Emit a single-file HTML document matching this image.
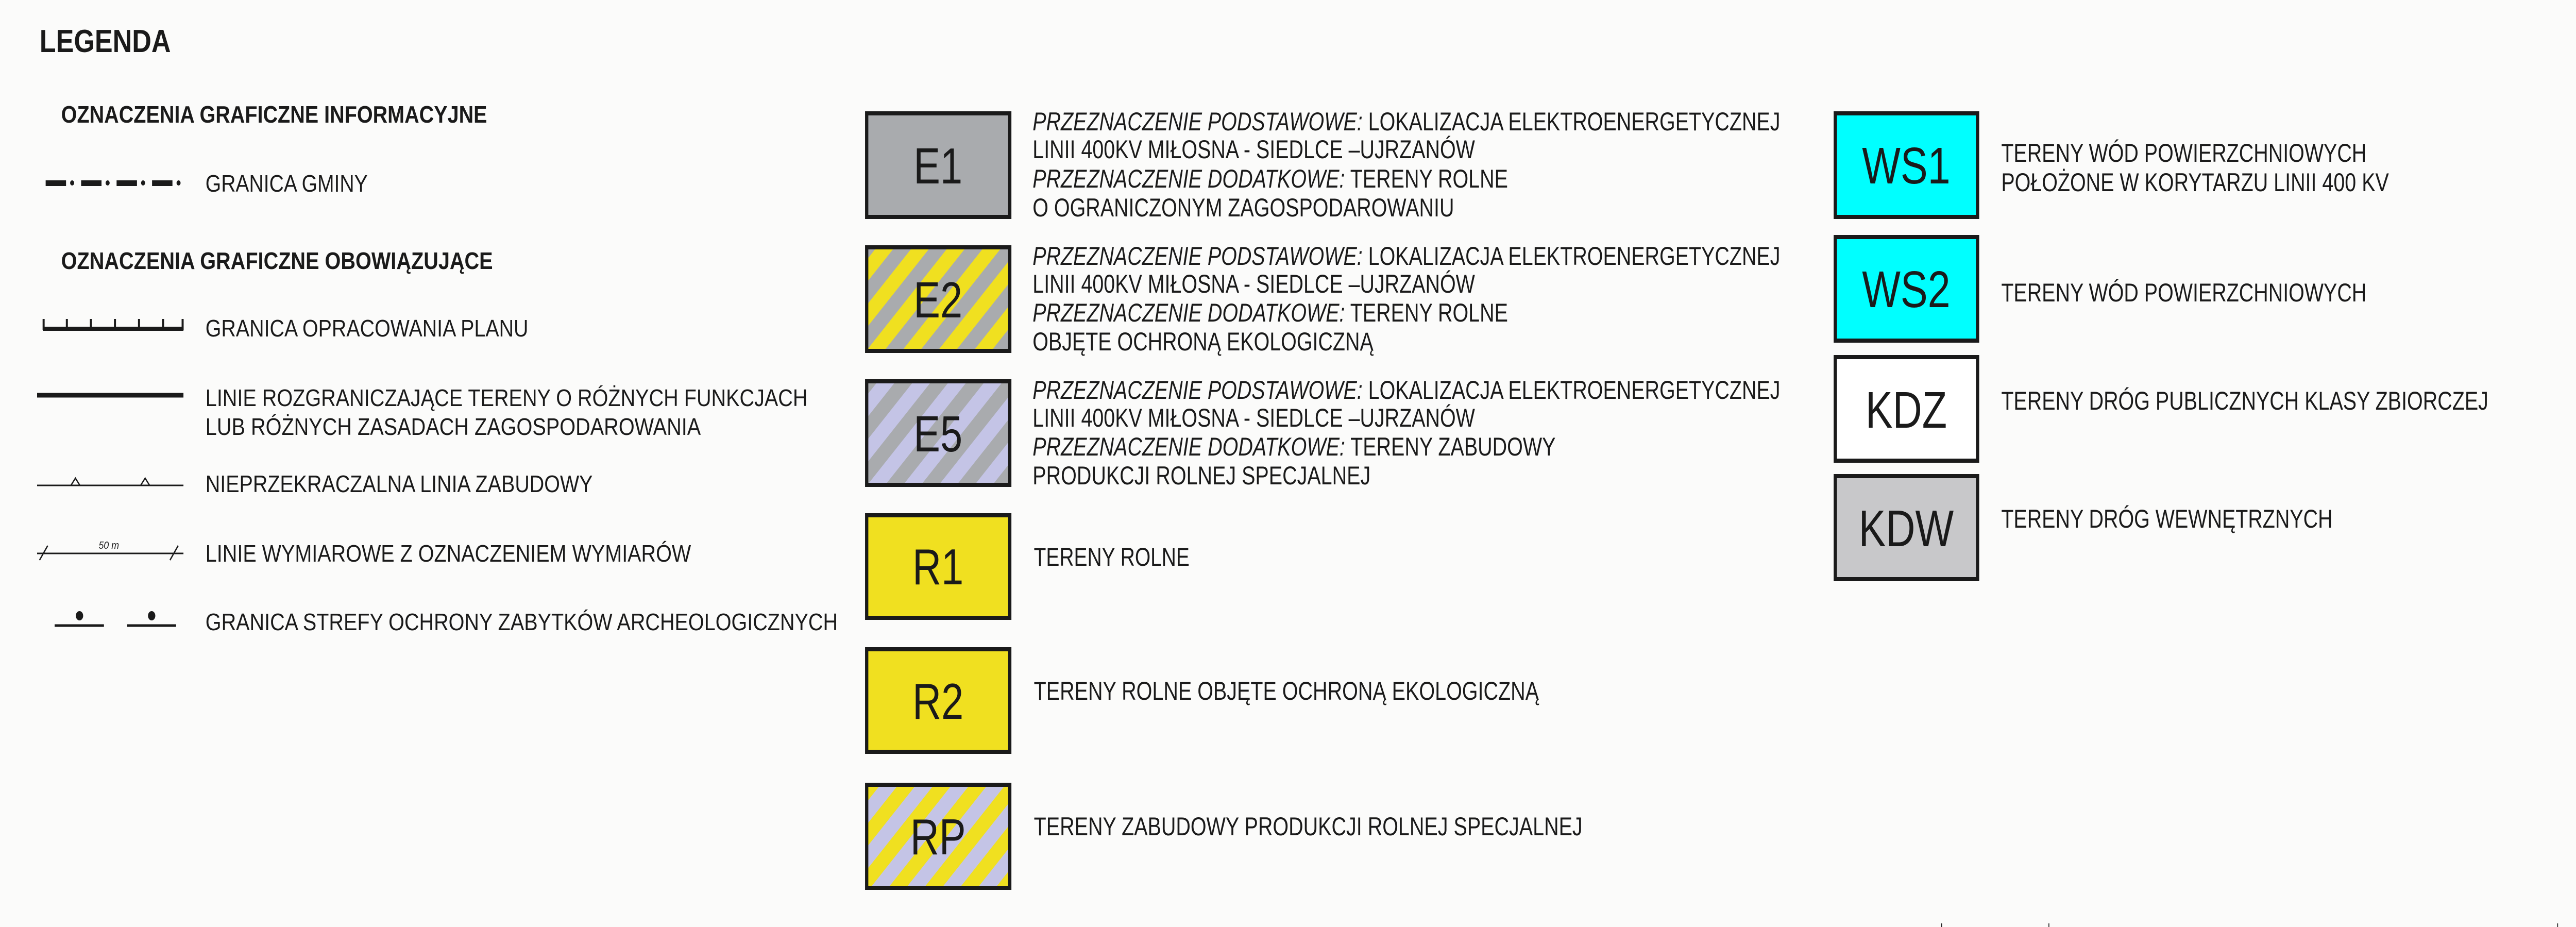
<!DOCTYPE html>
<html><head><meta charset="utf-8"><style>
html,body{margin:0;padding:0;background:#fbfbfa;overflow:hidden;width:100vw;height:100vh;}
svg{display:block;width:100vw;height:100vh;}
text{font-family:"Liberation Sans",sans-serif;fill:#1a1a1a;}
</style></head><body>
<svg viewBox="0 0 6319 1799" preserveAspectRatio="none" xmlns="http://www.w3.org/2000/svg">
<defs>
<pattern id="pGY" width="62" height="62" patternUnits="userSpaceOnUse" patternTransform="rotate(45)">
<rect width="62" height="62" fill="#a9abae"/><rect width="31" height="62" fill="#f0e020"/></pattern>
<pattern id="pGL" width="62" height="62" patternUnits="userSpaceOnUse" patternTransform="rotate(45)">
<rect width="62" height="62" fill="#a9abae"/><rect width="31" height="62" fill="#c4c4e6"/></pattern>
<pattern id="pYL" width="62" height="62" patternUnits="userSpaceOnUse" patternTransform="rotate(45)">
<rect width="62" height="62" fill="#f0e020"/><rect width="31" height="62" fill="#c4c4e6"/></pattern>
</defs>
<rect width="6319" height="1799" fill="#fbfbfa"/>

<text x="97" y="101" font-size="62" font-weight="bold" textLength="322" lengthAdjust="spacingAndGlyphs">LEGENDA</text>
<text x="150" y="238" font-size="46" font-weight="bold" textLength="1045" lengthAdjust="spacingAndGlyphs">OZNACZENIA GRAFICZNE INFORMACYJNE</text>
<text x="150" y="522" font-size="46" font-weight="bold" textLength="1059" lengthAdjust="spacingAndGlyphs">OZNACZENIA GRAFICZNE OBOWIĄZUJĄCE</text>

<g fill="#1a1a1a">
<rect x="112" y="350" width="50" height="11"/><circle cx="177" cy="355" r="5"/>
<rect x="199" y="350" width="50" height="11"/><circle cx="264" cy="355" r="5"/>
<rect x="286" y="350" width="50" height="11"/><circle cx="351" cy="355" r="5"/>
<rect x="373" y="350" width="50" height="11"/><circle cx="438" cy="355" r="5"/>
</g>
<text x="504" y="372" font-size="46" textLength="398" lengthAdjust="spacingAndGlyphs">GRANICA GMINY</text>

<g stroke="#1a1a1a" fill="none">
<line x1="105" y1="638" x2="450" y2="638" stroke-width="8"/>
<path d="M107 619V640M164 619V640M223 619V640M282 619V640M341 619V640M400 619V640M448 619V640" stroke-width="5"/>
</g>
<text x="504" y="653" font-size="46" textLength="792" lengthAdjust="spacingAndGlyphs">GRANICA OPRACOWANIA PLANU</text>

<line x1="91" y1="767" x2="450" y2="767" stroke="#1a1a1a" stroke-width="9"/>
<text x="504" y="788" font-size="46" textLength="1477" lengthAdjust="spacingAndGlyphs">LINIE ROZGRANICZAJĄCE TERENY O RÓŻNYCH FUNKCJACH</text>
<text x="504" y="844" font-size="46" textLength="1215" lengthAdjust="spacingAndGlyphs">LUB RÓŻNYCH ZASADACH ZAGOSPODAROWANIA</text>

<g stroke="#1a1a1a" fill="none" stroke-width="3">
<line x1="91" y1="942" x2="450" y2="942"/>
<path d="M174 942L185 928L196 942M345 942L356 928L367 942"/>
</g>
<text x="504" y="955" font-size="46" textLength="950" lengthAdjust="spacingAndGlyphs">NIEPRZEKRACZALNA LINIA ZABUDOWY</text>

<g stroke="#1a1a1a" fill="none" stroke-width="3">
<line x1="91" y1="1074" x2="450" y2="1074"/>
<line x1="97" y1="1087" x2="117" y2="1059"/>
<line x1="417" y1="1087" x2="437" y2="1059"/>
</g>
<text x="242" y="1065" font-size="20" font-style="italic" textLength="50" lengthAdjust="spacingAndGlyphs">50 m</text>
<text x="504" y="1090" font-size="46" textLength="1191" lengthAdjust="spacingAndGlyphs">LINIE WYMIAROWE Z OZNACZENIEM WYMIARÓW</text>

<g stroke="#1a1a1a" stroke-width="5">
<line x1="134" y1="1214" x2="255" y2="1214"/>
<line x1="312" y1="1214" x2="432" y2="1214"/>
</g>
<circle cx="195" cy="1195" r="9" fill="#1a1a1a"/>
<circle cx="372" cy="1195" r="9" fill="#1a1a1a"/>
<text x="504" y="1223" font-size="46" textLength="1551" lengthAdjust="spacingAndGlyphs">GRANICA STREFY OCHRONY ZABYTKÓW ARCHEOLOGICZNYCH</text>

<g stroke="#1a1a1a" stroke-width="8">
<rect x="2126" y="220" width="351" height="201" fill="#a9abae"/>
<rect x="2126" y="480" width="351" height="201" fill="url(#pGY)"/>
<rect x="2126" y="740" width="351" height="201" fill="url(#pGL)"/>
<rect x="2126" y="1000" width="351" height="199" fill="#f0e020"/>
<rect x="2126" y="1260" width="351" height="199" fill="#f0e020"/>
<rect x="2126" y="1523" width="351" height="200" fill="url(#pYL)"/>
</g>
<g font-size="98" text-anchor="middle">
<text x="2301" y="356">E1</text>
<text x="2301" y="616">E2</text>
<text x="2301" y="876">E5</text>
<text x="2301" y="1134">R1</text>
<text x="2301" y="1395">R2</text>
<text x="2301" y="1658">RP</text>
</g>
<g font-size="50">
<text x="2533" y="253" textLength="1834" lengthAdjust="spacingAndGlyphs"><tspan font-style="italic">PRZEZNACZENIE PODSTAWOWE:</tspan> LOKALIZACJA ELEKTROENERGETYCZNEJ</text>
<text x="2533" y="307" textLength="1085" lengthAdjust="spacingAndGlyphs">LINII 400KV MIŁOSNA - SIEDLCE –UJRZANÓW</text>
<text x="2533" y="364" textLength="1166" lengthAdjust="spacingAndGlyphs"><tspan font-style="italic">PRZEZNACZENIE DODATKOWE:</tspan> TERENY ROLNE</text>
<text x="2533" y="420" textLength="1034" lengthAdjust="spacingAndGlyphs">O OGRANICZONYM ZAGOSPODAROWANIU</text>

<text x="2533" y="514" textLength="1834" lengthAdjust="spacingAndGlyphs"><tspan font-style="italic">PRZEZNACZENIE PODSTAWOWE:</tspan> LOKALIZACJA ELEKTROENERGETYCZNEJ</text>
<text x="2533" y="568" textLength="1085" lengthAdjust="spacingAndGlyphs">LINII 400KV MIŁOSNA - SIEDLCE –UJRZANÓW</text>
<text x="2533" y="624" textLength="1166" lengthAdjust="spacingAndGlyphs"><tspan font-style="italic">PRZEZNACZENIE DODATKOWE:</tspan> TERENY ROLNE</text>
<text x="2533" y="680" textLength="836" lengthAdjust="spacingAndGlyphs">OBJĘTE OCHRONĄ EKOLOGICZNĄ</text>

<text x="2533" y="774" textLength="1834" lengthAdjust="spacingAndGlyphs"><tspan font-style="italic">PRZEZNACZENIE PODSTAWOWE:</tspan> LOKALIZACJA ELEKTROENERGETYCZNEJ</text>
<text x="2533" y="828" textLength="1085" lengthAdjust="spacingAndGlyphs">LINII 400KV MIŁOSNA - SIEDLCE –UJRZANÓW</text>
<text x="2533" y="884" textLength="1283" lengthAdjust="spacingAndGlyphs"><tspan font-style="italic">PRZEZNACZENIE DODATKOWE:</tspan> TERENY ZABUDOWY</text>
<text x="2533" y="940" textLength="829" lengthAdjust="spacingAndGlyphs">PRODUKCJI ROLNEJ SPECJALNEJ</text>

<text x="2536" y="1098" textLength="382" lengthAdjust="spacingAndGlyphs">TERENY ROLNE</text>
<text x="2536" y="1358" textLength="1239" lengthAdjust="spacingAndGlyphs">TERENY ROLNE OBJĘTE OCHRONĄ EKOLOGICZNĄ</text>
<text x="2536" y="1621" textLength="1346" lengthAdjust="spacingAndGlyphs">TERENY ZABUDOWY PRODUKCJI ROLNEJ SPECJALNEJ</text>
</g>

<g stroke="#1a1a1a" stroke-width="8">
<rect x="4502" y="220" width="349" height="201" fill="#00ffff"/>
<rect x="4502" y="460" width="349" height="201" fill="#00ffff"/>
<rect x="4502" y="693" width="349" height="201" fill="#ffffff"/>
<rect x="4502" y="924" width="349" height="200" fill="#c8c8ca"/>
</g>
<g font-size="100" text-anchor="middle">
<text x="4676" y="356">WS1</text>
<text x="4676" y="596">WS2</text>
<text x="4676" y="830">KDZ</text>
<text x="4676" y="1060">KDW</text>
</g>
<g font-size="50">
<text x="4909" y="314" textLength="896" lengthAdjust="spacingAndGlyphs">TERENY WÓD POWIERZCHNIOWYCH</text>
<text x="4909" y="371" textLength="951" lengthAdjust="spacingAndGlyphs">POŁOŻONE W KORYTARZU LINII 400 KV</text>
<text x="4909" y="585" textLength="896" lengthAdjust="spacingAndGlyphs">TERENY WÓD POWIERZCHNIOWYCH</text>
<text x="4909" y="795" textLength="1195" lengthAdjust="spacingAndGlyphs">TERENY DRÓG PUBLICZNYCH KLASY ZBIORCZEJ</text>
<text x="4909" y="1024" textLength="813" lengthAdjust="spacingAndGlyphs">TERENY DRÓG WEWNĘTRZNYCH</text>
</g>
<g stroke="#1a1a1a" stroke-width="2">
<line x1="4763" y1="1792" x2="4763" y2="1799"/>
<line x1="5026" y1="1792" x2="5026" y2="1799"/>
<line x1="6274" y1="1792" x2="6274" y2="1799"/>
</g>
</svg>
</body></html>
